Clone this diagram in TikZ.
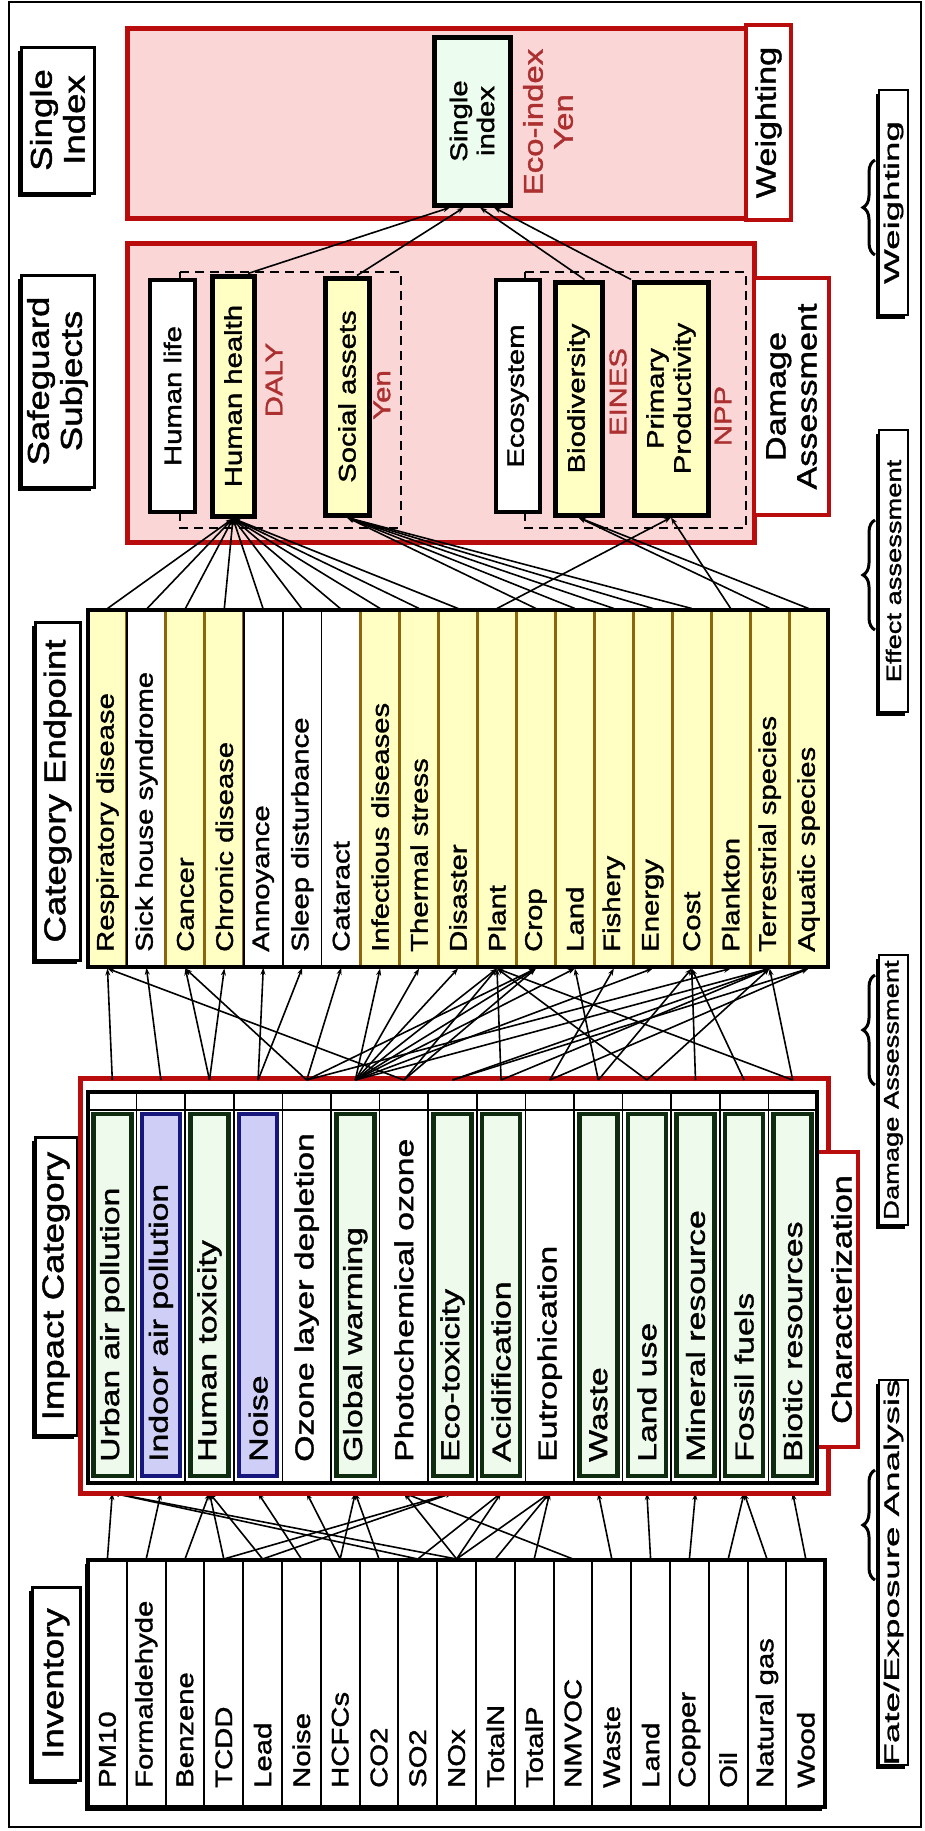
\documentclass[tikz,border=0pt]{standalone}
\usepackage{fontspec}
\setmainfont{Liberation Sans}
\newfontfamily\facea[FakeStretch=1.22,FakeBold=1.5]{Liberation Sans}
\newfontfamily\faceb[FakeStretch=1.3,FakeBold=1.5]{Liberation Sans}
\newfontfamily\facec[FakeStretch=1.75,FakeBold=1.5]{Liberation Sans}
\newfontfamily\faced[FakeStretch=1.3,FakeBold=1.5]{Liberation Sans}
\usetikzlibrary{arrows.meta,calc,decorations.pathreplacing,shadows}

\definecolor{pinkfill}{RGB}{250,214,214}
\definecolor{framered}{RGB}{185,12,12}
\definecolor{notered}{RGB}{172,48,48}
\definecolor{yelfill}{RGB}{255,255,196}
\definecolor{yeledge}{RGB}{140,102,14}
\definecolor{grnfill}{RGB}{238,251,236}
\definecolor{grnedge}{RGB}{16,44,16}
\definecolor{blufill}{RGB}{206,206,246}
\definecolor{bluedge}{RGB}{22,22,125}
\definecolor{sifill}{RGB}{236,252,238}

\newcommand{\pxfont}[2]{\fontsize{#1}{#2}\selectfont}

\begin{document}
\begin{tikzpicture}[x=1pt,y=-1pt,line join=miter,
  vtext/.style={rotate=90,align=center,inner sep=0pt},
  boxshadow/.style={drop shadow={shadow xshift=-3.5pt,shadow yshift=-3.5pt,fill=black,opacity=1}},
  heading/.style={draw,line width=3pt,fill=white,inner sep=0pt,boxshadow},
  headtext/.style={vtext,font=\facea\pxfont{30}{33}},
  stagebox/.style={draw,line width=2.4pt,fill=white,inner sep=0pt,boxshadow},
  stagebrace/.style={decorate,decoration={brace,amplitude=12pt},line width=3pt},
  sidebox/.style={draw=framered,line width=3.5pt,fill=white,inner sep=0pt},
  sidetext/.style={vtext,font=\facea\pxfont{28}{31}},
  redpanel/.style={draw=framered,line width=5pt,fill=pinkfill},
  subjectbox/.style={draw,line width=4pt,inner sep=0pt},
  subjecttext/.style={vtext,font=\facea\pxfont{24}{27}},
  redtext/.style={vtext,text=notered,font=\facea\pxfont{24}{27}},
  striptext/.style={rotate=90,anchor=west,inner sep=0pt},
  uplink/.style={line width=1.6pt,-{Stealth[length=7pt,width=5pt]}},
]
\fill[white] (0,0) rectangle (925,1831);
\useasboundingbox (0,0) rectangle (925,1831);
\draw[line width=2pt] (9,2) rectangle (921,1827);

% ---------- headings on the left ----------
\node[heading,minimum width=73pt,minimum height=146pt] (hd-si) at (57.5,120) {};
\node[headtext] at (hd-si) {Single\\Index};
\node[heading,minimum width=73pt,minimum height=212pt] (hd-ss) at (57.5,381) {};
\node[headtext] at (hd-ss) {Safeguard\\Subjects};
\node[heading,minimum width=45pt,minimum height=338pt] (hd-ce) at (57.5,791) {};
\node[headtext] at (hd-ce) {Category Endpoint};
\node[heading,minimum width=42pt,minimum height=298pt] (hd-ic) at (56,1286) {};
\node[headtext] at (hd-ic) {Impact Category};
\node[heading,minimum width=48pt,minimum height=193pt] (hd-inv) at (56,1683.5) {};
\node[headtext] at (hd-inv) {Inventory};

% ---------- stages on the right ----------
\node[stagebox,minimum width=29pt,minimum height=225pt] (sg-w) at (893.5,202.5) {};
\node[vtext,font=\facec\pxfont{21}{24}] at (sg-w) {Weighting};
\draw[stagebrace] (875,255) -- (875,160);
\node[stagebox,minimum width=29pt,minimum height=282pt] (sg-e) at (893.5,571) {};
\node[vtext,font=\faced\pxfont{21}{24}] at (sg-e) {Effect assessment};
\draw[stagebrace] (875,630) -- (875,520);
\node[stagebox,minimum width=29pt,minimum height=270pt] (sg-d) at (893.5,1090) {};
\node[vtext,font=\faced\pxfont{21}{24}] at (sg-d) {Damage Assessment};
\draw[stagebrace] (875,1085) -- (875,975);
\node[stagebox,minimum width=29pt,minimum height=385pt] (sg-f) at (893.5,1572.5) {};
\node[vtext,font=\facec\pxfont{21}{24}] at (sg-f) {Fate/Exposure Analysis};
\draw[stagebrace] (875,1580) -- (875,1470);

% ---------- single index panel ----------
\draw[redpanel] (127,28) rectangle (746,218);
\node[sidebox,minimum width=45pt,minimum height=195pt] (wt) at (768.5,122.5) {};
\node[sidetext] at (wt) {Weighting};
\node[draw,line width=5pt,fill=sifill,minimum width=76pt,minimum height=168pt,inner sep=0pt] (si) at (472,121) {};
\node[vtext,font=\facea\pxfont{24}{27}] at (si) {Single\\index};
\node[redtext,font=\facea\pxfont{27}{30}] (eco) at (548,122) {Eco-index\\Yen};

% ---------- safeguard subjects panel ----------
\draw[redpanel] (127,243) rectangle (754,542);
\node[sidebox,minimum width=75pt,minimum height=237pt] (dm) at (791.5,396.5) {};
\node[sidetext] at (dm) {Damage\\Assessment};
\draw[line width=2.5pt,dash pattern=on 9pt off 6pt] (180,272) rectangle (401,528);
\draw[line width=2.5pt,dash pattern=on 9pt off 6pt] (525,272) rectangle (746,528);
\node[subjectbox,fill=white,minimum width=45pt,minimum height=232pt] (hl) at (172.5,396) {};
\node[subjecttext] at (hl) {Human life};
\node[subjectbox,line width=5pt,fill=yelfill,minimum width=42pt,minimum height=240pt] (hh) at (233,396) {};
\node[subjecttext] at (hh) {Human health};
\node[subjectbox,line width=5pt,fill=yelfill,minimum width=44pt,minimum height=237pt] (sa) at (347,396.5) {};
\node[subjecttext] at (sa) {Social assets};
\node[subjectbox,fill=white,minimum width=44pt,minimum height=232pt] (es) at (518,396) {};
\node[subjecttext] at (es) {Ecosystem};
\node[subjectbox,line width=5pt,fill=yelfill,minimum width=47pt,minimum height=233pt] (bd) at (578.5,398.5) {};
\node[subjecttext] at (bd) {Biodiversity};
\node[subjectbox,line width=5pt,fill=yelfill,minimum width=74pt,minimum height=233pt] (pp) at (671,398.5) {};
\node[subjecttext] at (pp) {Primary\\Productivity};
\node[redtext] (daly) at (274,380) {DALY};
\node[redtext] (yen) at (382,395) {Yen};
\node[redtext] (eines) at (618,392) {EINES};
\node[redtext] (npp) at (723,416) {NPP};

% ---------- inventory ----------
\fill (84.5,1563.5) rectangle (821.7,1810.5);
\foreach \t [count=\i] in {PM10,Formaldehyde,Benzene,TCDD,Lead,Noise,HCFCs,CO2,SO2,NOx,TotalN,TotalP,NMVOC,Waste,Land,Copper,Oil,Natural gas,Wood}{
  \pgfmathsetmacro\cx{88+38.8*(\i-0.5)}
  \node[draw,fill=white,line width=2pt,minimum width=38.8pt,minimum height=247pt,inner sep=0pt] (inv-\i) at (\cx,1683.5) {};
  \node[striptext,font=\facea\pxfont{24}{27}] at (\cx,1788) {\t};
}
\draw[line width=3.5pt] (88,1560) rectangle (825.2,1807);

% impact strip anchors
\foreach \i in {1,...,15}{
  \pgfmathsetmacro\cx{88+48.6*(\i-0.5)}
  \coordinate (ict-\i) at (\cx,1080);
  \coordinate (icb-\i) at (\cx,1493);
}

% inventory -> impact category
\foreach \a/\b in {1/1,2/2,3/3,4/3,4/8,5/3,5/8,6/4,7/5,7/6,8/6,9/1,9/9,10/1,10/7,10/9,10/10,11/10,12/10,13/7,14/11,15/12,16/13,17/14,18/14,19/15}{
  \draw[uplink] (inv-\a.north) -- (icb-\b);
}

% ---------- impact category ----------
\draw[framered,line width=5pt] (80,1078) rectangle (828,1493);
\node[sidebox,minimum width=41pt,minimum height=295pt] (chz) at (837.5,1299.5) {};
\draw[line width=4pt,fill=white] (88,1092) rectangle (817,1483);
\foreach \i in {0,...,15}{
  \draw[line width=1.5pt] (88+48.6*\i,1092) -- (88+48.6*\i,1483);
}
\draw[line width=2pt] (88,1110) -- (817,1110);
\foreach \t/\fc/\ec [count=\i] in {Urban air pollution/grnfill/grnedge,Indoor air pollution/blufill/bluedge,Human toxicity/grnfill/grnedge,Noise/blufill/bluedge,Ozone layer depletion/white/none,Global warming/grnfill/grnedge,Photochemical ozone/white/none,Eco-toxicity/grnfill/grnedge,Acidification/grnfill/grnedge,Eutrophication/white/none,Waste/grnfill/grnedge,Land use/grnfill/grnedge,Mineral resource/grnfill/grnedge,Fossil fuels/grnfill/grnedge,Biotic resources/grnfill/grnedge}{
  \pgfmathsetmacro\cx{88+48.6*(\i-0.5)}
  \node[draw=\ec,fill=\fc,line width=4.5pt,minimum width=38pt,minimum height=362pt,inner sep=0pt] (ic-\i) at (\cx,1295) {};
  \node[striptext,font=\faceb\pxfont{26}{29}] at (\cx,1462) {\t};
}
\node[vtext,font=\facea\pxfont{28}{31}] at ($(chz)+(4,0)$) {Characterization};

% ---------- category endpoints ----------
\foreach \t/\fc/\ec/\lw [count=\i] in {Respiratory disease/yelfill/yeledge/3,Sick house syndrome/white/black/1.5,Cancer/yelfill/yeledge/3,Chronic disease/yelfill/yeledge/3,Annoyance/white/black/1.5,Sleep disturbance/white/black/1.5,Cataract/white/black/1.5,Infectious diseases/yelfill/yeledge/3,Thermal stress/yelfill/yeledge/3,Disaster/yelfill/yeledge/3,Plant/yelfill/yeledge/3,Crop/yelfill/yeledge/3,Land/yelfill/yeledge/3,Fishery/yelfill/yeledge/3,Energy/yelfill/yeledge/3,Cost/yelfill/yeledge/3,Plankton/yelfill/yeledge/3,Terrestrial species/yelfill/yeledge/3,Aquatic species/yelfill/yeledge/3}{
  \pgfmathsetmacro\cx{88+38.95*(\i-0.5)}
  \node[draw=\ec,fill=\fc,line width=\lw pt,minimum width=38.95pt,minimum height=357pt,inner sep=0pt] (ep-\i) at (\cx,788.5) {};
  \node[striptext,font=\facea\pxfont{24}{27}] at (\cx,952) {\t};
}
\draw[line width=3.5pt] (88,610) rectangle (828,967);

% impact category -> category endpoint
\foreach \a/\b in {1/1,2/2,3/3,3/4,4/5,4/6,5/3,5/7,5/12,5/17,6/8,6/9,6/10,6/11,6/12,6/13,6/15,6/18,7/1,7/11,7/12,8/18,8/19,9/11,9/18,10/14,10/19,11/13,11/16,12/11,12/18,13/16,14/16,15/18,15/11}{
  \draw[uplink] (ict-\a) -- (ep-\b.south);
}

% category endpoint -> safeguard subjects
\foreach \b in {1,...,10}{ \draw[uplink] (ep-\b.north) -- (hh.south); }
\foreach \b in {12,...,16}{ \draw[uplink] (ep-\b.north) -- (sa.south); }
\foreach \b in {11,17}{ \draw[uplink] (ep-\b.north) -- (pp.south); }
\foreach \b in {18,19}{ \draw[uplink] (ep-\b.north) -- (bd.south); }

% safeguard subjects -> single index
\draw[uplink] ($(hh.north)+(15,0)$) -- ($(si.south)+(-22,0)$);
\draw[uplink] ($(sa.north)+(10,0)$) -- ($(si.south)+(-8,0)$);
\draw[uplink] ($(bd.north)+(6,0)$) -- ($(si.south)+(8,0)$);
\draw[uplink] ($(pp.north)+(-40,0)$) -- ($(si.south)+(22,0)$);
\end{tikzpicture}
\end{document}
